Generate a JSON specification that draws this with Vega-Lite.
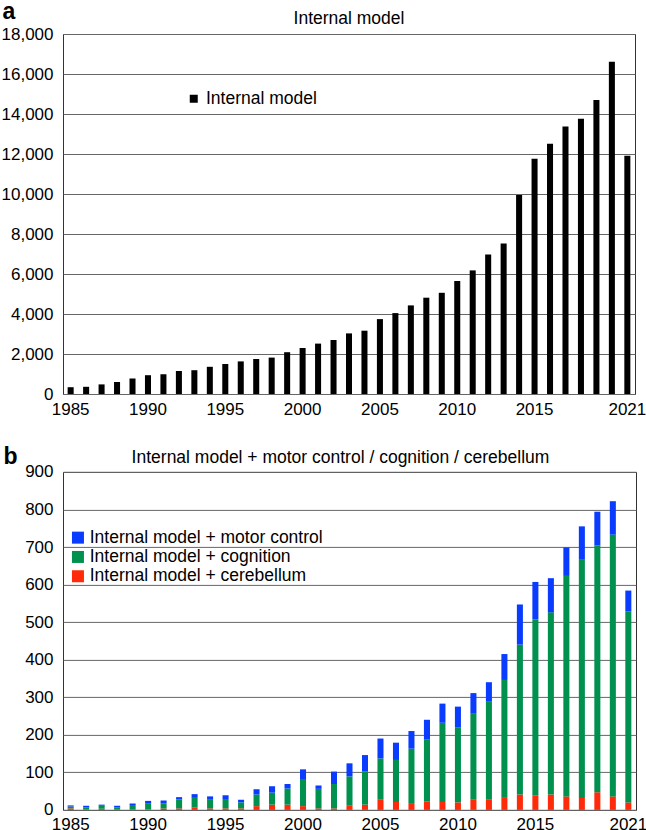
{
  "$schema": "https://vega.github.io/schema/vega-lite/v6.json",
  "padding": {"left": 0, "top": 0, "right": 0, "bottom": 0},
  "autosize": {"type": "pad"},
  "background": "white",
  "spacing": 25.9,
  "resolve": {"scale": {"x": "independent", "y": "independent", "color": "independent"}, "legend": {"color": "independent"}, "axis": {"x": "independent", "y": "independent"}},
  "config": {
    "font": "Liberation Sans",
    "view": {"stroke": "#333333", "strokeWidth": 1},
    "axis": {
      "labelFont": "Liberation Sans",
      "labelFontSize": 17,
      "labelColor": "black",
      "ticks": false,
      "domain": false,
      "gridColor": "#666666",
      "gridWidth": 1,
      "gridOpacity": 1
    },
    "title": {"font": "Liberation Sans", "fontSize": 17.5, "fontWeight": "normal", "color": "black"},
    "legend": {"labelFont": "Liberation Sans", "labelFontSize": 17.5, "labelColor": "black", "title": null, "symbolType": "square", "symbolStrokeWidth": 0, "padding": 0, "labelLimit": 400}
  },
  "datasets": {
    "total": [
      {"year": 1985, "count": 340}, {"year": 1986, "count": 360}, {"year": 1987, "count": 480},
      {"year": 1988, "count": 600}, {"year": 1989, "count": 780}, {"year": 1990, "count": 940},
      {"year": 1991, "count": 990}, {"year": 1992, "count": 1150}, {"year": 1993, "count": 1190},
      {"year": 1994, "count": 1360}, {"year": 1995, "count": 1500}, {"year": 1996, "count": 1630},
      {"year": 1997, "count": 1750}, {"year": 1998, "count": 1820}, {"year": 1999, "count": 2090},
      {"year": 2000, "count": 2300}, {"year": 2001, "count": 2520}, {"year": 2002, "count": 2700},
      {"year": 2003, "count": 3030}, {"year": 2004, "count": 3165}, {"year": 2005, "count": 3745},
      {"year": 2006, "count": 4045}, {"year": 2007, "count": 4430}, {"year": 2008, "count": 4815},
      {"year": 2009, "count": 5060}, {"year": 2010, "count": 5650}, {"year": 2011, "count": 6180},
      {"year": 2012, "count": 6980}, {"year": 2013, "count": 7520}, {"year": 2014, "count": 9955},
      {"year": 2015, "count": 11760}, {"year": 2016, "count": 12510}, {"year": 2017, "count": 13380},
      {"year": 2018, "count": 13760}, {"year": 2019, "count": 14700}, {"year": 2020, "count": 16615},
      {"year": 2021, "count": 11915}
    ],
    "split": [
      {"year": 1985, "cerebellum": 4, "cognition": 5, "motor": 3},
      {"year": 1986, "cerebellum": 2, "cognition": 5, "motor": 4},
      {"year": 1987, "cerebellum": 3, "cognition": 8, "motor": 3},
      {"year": 1988, "cerebellum": 2, "cognition": 5, "motor": 4},
      {"year": 1989, "cerebellum": 2, "cognition": 11, "motor": 4},
      {"year": 1990, "cerebellum": 1, "cognition": 17, "motor": 6},
      {"year": 1991, "cerebellum": 4, "cognition": 14, "motor": 7},
      {"year": 1992, "cerebellum": 4, "cognition": 24, "motor": 6},
      {"year": 1993, "cerebellum": 7, "cognition": 25, "motor": 10},
      {"year": 1994, "cerebellum": 4, "cognition": 23, "motor": 9},
      {"year": 1995, "cerebellum": 4, "cognition": 25, "motor": 10},
      {"year": 1996, "cerebellum": 4, "cognition": 16, "motor": 7},
      {"year": 1997, "cerebellum": 10, "cognition": 31, "motor": 14},
      {"year": 1998, "cerebellum": 14, "cognition": 32, "motor": 17},
      {"year": 1999, "cerebellum": 14, "cognition": 43, "motor": 12},
      {"year": 2000, "cerebellum": 10, "cognition": 70, "motor": 28},
      {"year": 2001, "cerebellum": 4, "cognition": 52, "motor": 9},
      {"year": 2002, "cerebellum": 4, "cognition": 65, "motor": 33},
      {"year": 2003, "cerebellum": 11, "cognition": 78, "motor": 35},
      {"year": 2004, "cerebellum": 14, "cognition": 88, "motor": 44},
      {"year": 2005, "cerebellum": 27, "cognition": 110, "motor": 53},
      {"year": 2006, "cerebellum": 21, "cognition": 112, "motor": 46},
      {"year": 2007, "cerebellum": 16, "cognition": 147, "motor": 47},
      {"year": 2008, "cerebellum": 23, "cognition": 164, "motor": 53},
      {"year": 2009, "cerebellum": 21, "cognition": 211, "motor": 51},
      {"year": 2010, "cerebellum": 20, "cognition": 199, "motor": 56},
      {"year": 2011, "cerebellum": 27, "cognition": 229, "motor": 55},
      {"year": 2012, "cerebellum": 27, "cognition": 261, "motor": 52},
      {"year": 2013, "cerebellum": 32, "cognition": 314, "motor": 69},
      {"year": 2014, "cerebellum": 41, "cognition": 399, "motor": 107},
      {"year": 2015, "cerebellum": 39, "cognition": 468, "motor": 100},
      {"year": 2016, "cerebellum": 41, "cognition": 485, "motor": 91},
      {"year": 2017, "cerebellum": 36, "cognition": 587, "motor": 76},
      {"year": 2018, "cerebellum": 32, "cognition": 634, "motor": 89},
      {"year": 2019, "cerebellum": 47, "cognition": 657, "motor": 90},
      {"year": 2020, "cerebellum": 36, "cognition": 697, "motor": 89},
      {"year": 2021, "cerebellum": 20, "cognition": 509, "motor": 55}
    ]
  },
  "vconcat": [
    {
      "width": 572,
      "height": 360,
      "title": {"text": "Internal model", "offset": -27},
      "data": {"name": "total"},
      "mark": {"type": "bar", "color": "black"},
      "encoding": {
        "x": {
          "field": "year", "type": "ordinal",
          "scale": {"paddingInner": 0.61, "paddingOuter": 0.3},
          "axis": {"title": null, "labelAngle": 0, "labelPadding": 7, "values": [1985, 1990, 1995, 2000, 2005, 2010, 2015, 2021], "labelOverlap": false}
        },
        "y": {
          "field": "count", "type": "quantitative",
          "scale": {"domain": [0, 18000], "nice": false},
          "axis": {
            "title": "a", "titleAngle": 0, "titleX": -61, "titleY": -15.3, "titleAlign": "left", "titleBaseline": "alphabetic",
            "titleFontSize": 23, "titleFontWeight": "bold", "titleColor": "black", "titleFont": "Liberation Sans",
            "values": [0, 2000, 4000, 6000, 8000, 10000, 12000, 14000, 16000, 18000], "format": ",.0f", "labelPadding": 10
          }
        },
        "color": {
          "datum": "Internal model", "type": "nominal",
          "scale": {"range": ["black"]},
          "legend": {"orient": "none", "legendX": 122, "legendY": 56, "symbolSize": 64, "labelOffset": 3.5}
        }
      }
    },
    {
      "width": 573,
      "height": 338,
      "title": {"text": "Internal model + motor control / cognition / cerebellum", "dx": -9, "offset": -20.8},
      "data": {"name": "split"},
      "transform": [{"fold": ["cerebellum", "cognition", "motor"], "as": ["series", "value"]}],
      "mark": {"type": "bar"},
      "encoding": {
        "x": {
          "field": "year", "type": "ordinal",
          "scale": {"paddingInner": 0.61, "paddingOuter": 0.3},
          "axis": {"title": null, "labelAngle": 0, "labelPadding": 7, "values": [1985, 1990, 1995, 2000, 2005, 2010, 2015, 2021], "labelOverlap": false}
        },
        "y": {
          "field": "value", "type": "quantitative", "stack": "zero",
          "scale": {"domain": [0, 900], "nice": false},
          "axis": {
            "title": "b", "titleAngle": 0, "titleX": -60, "titleY": -8.7, "titleAlign": "left", "titleBaseline": "alphabetic",
            "titleFontSize": 23, "titleFontWeight": "bold", "titleColor": "black", "titleFont": "Liberation Sans",
            "values": [0, 100, 200, 300, 400, 500, 600, 700, 800, 900], "labelPadding": 10
          }
        },
        "color": {
          "field": "series", "type": "nominal",
          "scale": {"domain": ["motor", "cognition", "cerebellum"], "range": ["#0a3cff", "#00914f", "#ff2a0a"]},
          "legend": {
            "orient": "none", "legendX": 6.2, "legendY": 57, "symbolSize": 144, "labelOffset": 3, "rowPadding": 0.3,
            "labelExpr": "datum.label == 'motor' ? 'Internal model + motor control' : 'Internal model + ' + datum.label"
          }
        },
        "order": {"field": "series", "sort": "ascending"}
      }
    }
  ]
}
